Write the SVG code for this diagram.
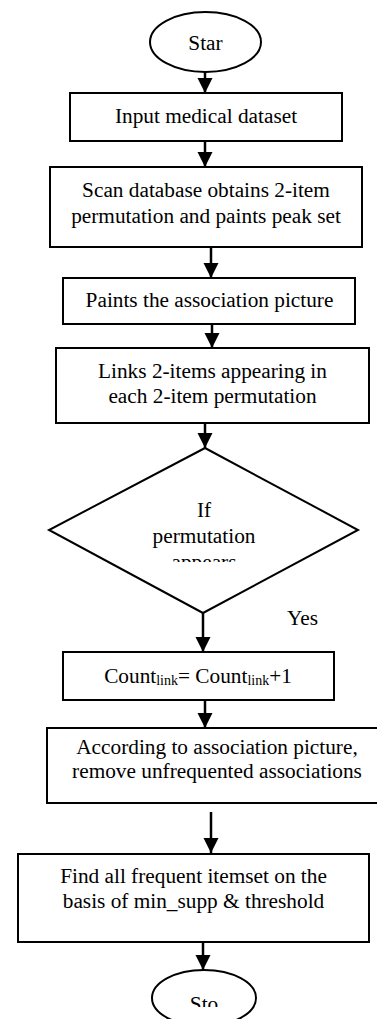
<svg xmlns="http://www.w3.org/2000/svg" width="377" height="1019" viewBox="0 0 377 1019" font-family="'Liberation Serif', 'Times New Roman', serif">
<style>
.shape{fill:#fff;stroke:#000;stroke-width:2}
.t{font-family:'Liberation Serif','Times New Roman',serif;font-size:21.3px;fill:#000}
.c{text-anchor:middle}
.conn line{stroke:#000;stroke-width:2.5}
</style>
<defs>
<marker id="ah" markerUnits="userSpaceOnUse" markerWidth="16" markerHeight="16" viewBox="0 0 16 16" refX="15" refY="8" orient="auto">
<polygon points="0,0.5 15,8 0,15.5" fill="#000"/>
</marker>
<clipPath id="clipIf"><rect x="0" y="440" width="377" height="122"/></clipPath>
<clipPath id="clipStop"><rect x="0" y="960" width="377" height="47"/></clipPath>
</defs>
<rect width="377" height="1019" fill="#fff"/>
<g id="start">
<ellipse class="shape" cx="205.5" cy="42" rx="55.5" ry="30"/>
<text class="t c" x="205.5" y="50">Star</text>
</g>
<g id="input">
<rect class="shape" x="70" y="93" width="272" height="48"/>
<text class="t c" x="206" y="123">Input medical dataset</text>
</g>
<g id="scan">
<rect class="shape" x="50" y="167" width="312" height="80"/>
<text class="t c" x="206" y="197">Scan database obtains 2-item</text>
<text class="t c" x="206" y="223">permutation and paints peak set</text>
</g>
<g id="paints">
<rect class="shape" x="63" y="278" width="292" height="46"/>
<text class="t c" x="209.5" y="307">Paints the association picture</text>
</g>
<g id="links">
<rect class="shape" x="56" y="348" width="313" height="75"/>
<text class="t c" x="212.5" y="378">Links 2-items appearing in</text>
<text class="t c" x="212.5" y="403">each 2-item permutation</text>
</g>
<g id="decision">
<polygon class="shape" points="205,448 358,530 203,613 49,530"/>
<text class="t c" x="204" y="517">If</text>
<text class="t c" x="204" y="543">permutation</text>
<text class="t c" x="204" y="569" clip-path="url(#clipIf)">appears</text>
</g>
<g id="yes-label">
<text class="t" x="287" y="625">Yes</text>
</g>
<g id="count">
<rect class="shape" x="63" y="652" width="271" height="48"/>
<text class="t c" x="198" y="683">Count<tspan font-size="14" dy="2">link</tspan><tspan dy="-2">= Count</tspan><tspan font-size="14" dy="2">link</tspan><tspan dy="-2">+1</tspan></text>
</g>
<g id="according">
<rect class="shape" x="47" y="728" width="345" height="75"/>
<text class="t c" x="217" y="754">According to association picture,</text>
<text class="t c" x="217" y="778">remove unfrequented associations</text>
</g>
<g id="find">
<rect class="shape" x="18" y="854" width="351" height="88"/>
<text class="t c" x="193.5" y="883">Find all frequent itemset on the</text>
<text class="t c" x="193.5" y="908">basis of min_supp &amp; threshold</text>
</g>
<g id="stop">
<ellipse class="shape" cx="204" cy="998" rx="52" ry="28"/>
<text class="t c" x="204" y="1011" clip-path="url(#clipStop)">Sto</text>
</g>
<g id="connectors" class="conn">
<line x1="205" y1="72" x2="205" y2="93" marker-end="url(#ah)"/>
<line x1="205" y1="141" x2="205" y2="167" marker-end="url(#ah)"/>
<line x1="211" y1="247" x2="211" y2="278" marker-end="url(#ah)"/>
<line x1="212" y1="324" x2="212" y2="348" marker-end="url(#ah)"/>
<line x1="205" y1="423" x2="205" y2="448" marker-end="url(#ah)"/>
<line x1="203" y1="613" x2="203" y2="652" marker-end="url(#ah)"/>
<line x1="205" y1="700" x2="205" y2="728" marker-end="url(#ah)"/>
<line x1="211" y1="812" x2="211" y2="853" marker-end="url(#ah)"/>
<line x1="203" y1="942" x2="203" y2="970" marker-end="url(#ah)"/>
</g>
</svg>
